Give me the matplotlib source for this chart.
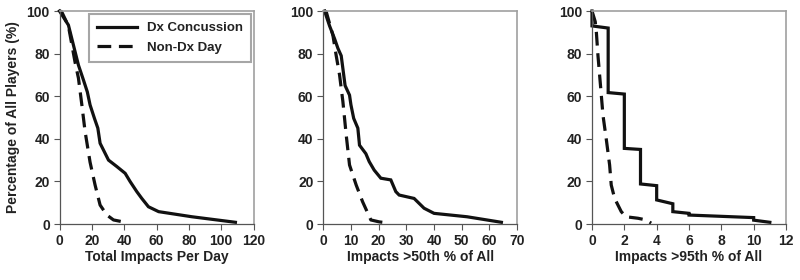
"""
Survival-style curves of head impacts: concussion day vs non-concussion days.
Three panels: total impacts per day, impacts >50th pct, impacts >95th pct.
"""

import matplotlib
matplotlib.use('Agg')
import matplotlib.pyplot as plt

plt.rcParams['font.family'] = ['Liberation Sans', 'DejaVu Sans']
plt.rcParams['font.weight'] = 'bold'

# Panel 1 - total impacts per day
total_dx_x = [0, 5.5, 8.6, 11.7, 14.8, 17.2, 18.9, 21.6, 23.7, 25.1, 30.3, 35.4,
              40.6, 43.7, 47.8, 50.9, 55, 61.3, 81.9, 108.8]
total_dx_y = [100, 93.4, 84, 74.6, 67.6, 62, 55.9, 49.6, 45, 37.9, 30, 27,
              23.8, 19.9, 15.2, 12, 8.1, 5.8, 3.4, 0.8]
total_non_x = [0, 1.3, 5.5, 9.6, 11.7, 13.8, 15.8, 18.9, 22, 25.1, 29.3, 33.4, 40.6]
total_non_y = [100, 99.7, 93, 76, 68.5, 56, 43.5, 29, 18.3, 8.9, 4.2, 1.9, 0.8]

# Panel 2 - impacts >50th percentile
p50_dx_x = [0.5, 2.3, 4.1, 5.3, 6.5, 7.1, 7.9, 9.5, 10, 11, 12.5, 13.1, 15.4,
            16.6, 18.4, 20.8, 24.4, 26.2, 27.4, 32.8, 36.4, 40, 51.9, 64.3]
p50_dx_y = [100, 93, 87, 82.5, 79, 73, 65, 60.5, 56, 49.6, 45, 37, 33,
            29.3, 25.3, 21.5, 20.7, 15.2, 13.6, 12, 7.4, 5, 3.4, 0.8]
p50_non_x = [0.5, 1.1, 3.5, 4.7, 5.9, 7.1, 8.3, 9.5, 11.9, 14.2, 17.2, 20.2, 23.8]
p50_non_y = [100, 99.6, 88.6, 79, 70, 57.5, 41.8, 27.7, 18.3, 10.5, 1.9, 1, 0.4]

# Panel 3 - impacts >95th percentile (whole-number counts, so stepped)
p95_dx_x = [0, 0, 1, 1, 2, 2, 3, 3, 4, 4, 5, 5, 6, 6, 10, 10, 11]
p95_dx_y = [100, 93, 92, 61.7, 61, 35.5, 35, 18.8, 18, 11.3, 9.5, 5.8, 5, 4.2, 3, 1.8, 0.8]
p95_non_x = [0, 0.2, 0.27, 0.37, 0.54, 0.68, 0.88, 1.09, 1.19, 1.4, 1.81, 2.1, 2.84, 3.35, 3.66]
p95_non_y = [100, 95, 90, 79, 63.7, 51, 40, 27.7, 18.3, 12, 5.8, 3.4, 2.7, 1.9, 0.4]

PANELS = [
    (total_dx_x, total_dx_y, total_non_x, total_non_y, 120, 20, 'Total Impacts Per Day'),
    (p50_dx_x, p50_dx_y, p50_non_x, p50_non_y, 70, 10, 'Impacts >50th % of All'),
    (p95_dx_x, p95_dx_y, p95_non_x, p95_non_y, 12, 2, 'Impacts >95th % of All'),
]
LEFTS = [0.0744, 0.404, 0.74]

fig = plt.figure(figsize=(8, 2.8), dpi=100)

for i, (dx_x, dx_y, non_x, non_y, xmax, xstep, xlabel) in enumerate(PANELS):
    ax = fig.add_axes([LEFTS[i], 0.2, 0.2425, 0.7607])
    ax.plot(dx_x, dx_y, color='#111111', lw=2.3, solid_joinstyle='miter',
            label='Dx Concussion', clip_on=False)
    ax.plot(non_x, non_y, color='#111111', lw=2.3, dashes=(4.3, 2.4),
            label='Non-Dx Day', clip_on=False)

    ax.set_xlim(0, xmax)
    ax.set_ylim(0, 100)
    ax.set_xticks(range(0, xmax + 1, xstep))
    ax.set_yticks(range(0, 101, 20))
    ax.tick_params(direction='out', length=4, width=0.8, color='#555555',
                   labelsize=10, pad=3)
    for lbl in ax.get_xticklabels() + ax.get_yticklabels():
        lbl.set_fontweight('bold')
        lbl.set_color('#222222')

    for side in ['left', 'bottom']:
        ax.spines[side].set_color('#555555')
        ax.spines[side].set_linewidth(0.9)
    for side in ['top', 'right']:
        ax.spines[side].set_color('#a0a0a0')
        ax.spines[side].set_linewidth(1.2)

    ax.set_xlabel(xlabel, fontsize=10, fontweight='bold', color='#222222', labelpad=2)
    if i == 0:
        ax.set_ylabel('Percentage of All Players (%)', fontsize=10, fontweight='bold',
                      color='#222222', labelpad=5)
        leg = ax.legend(loc='upper right', bbox_to_anchor=(0.985, 0.985),
                        borderaxespad=0, fancybox=False, frameon=True,
                        handlelength=3.0, handletextpad=0.75, borderpad=0.6,
                        labelspacing=0.55, prop={'size': 9.5, 'weight': 'bold'})
        leg.get_frame().set_edgecolor('#909090')
        leg.get_frame().set_linewidth(1.5)
        for t in leg.get_texts():
            t.set_color('#222222')

fig.savefig('out.png', dpi=100)
